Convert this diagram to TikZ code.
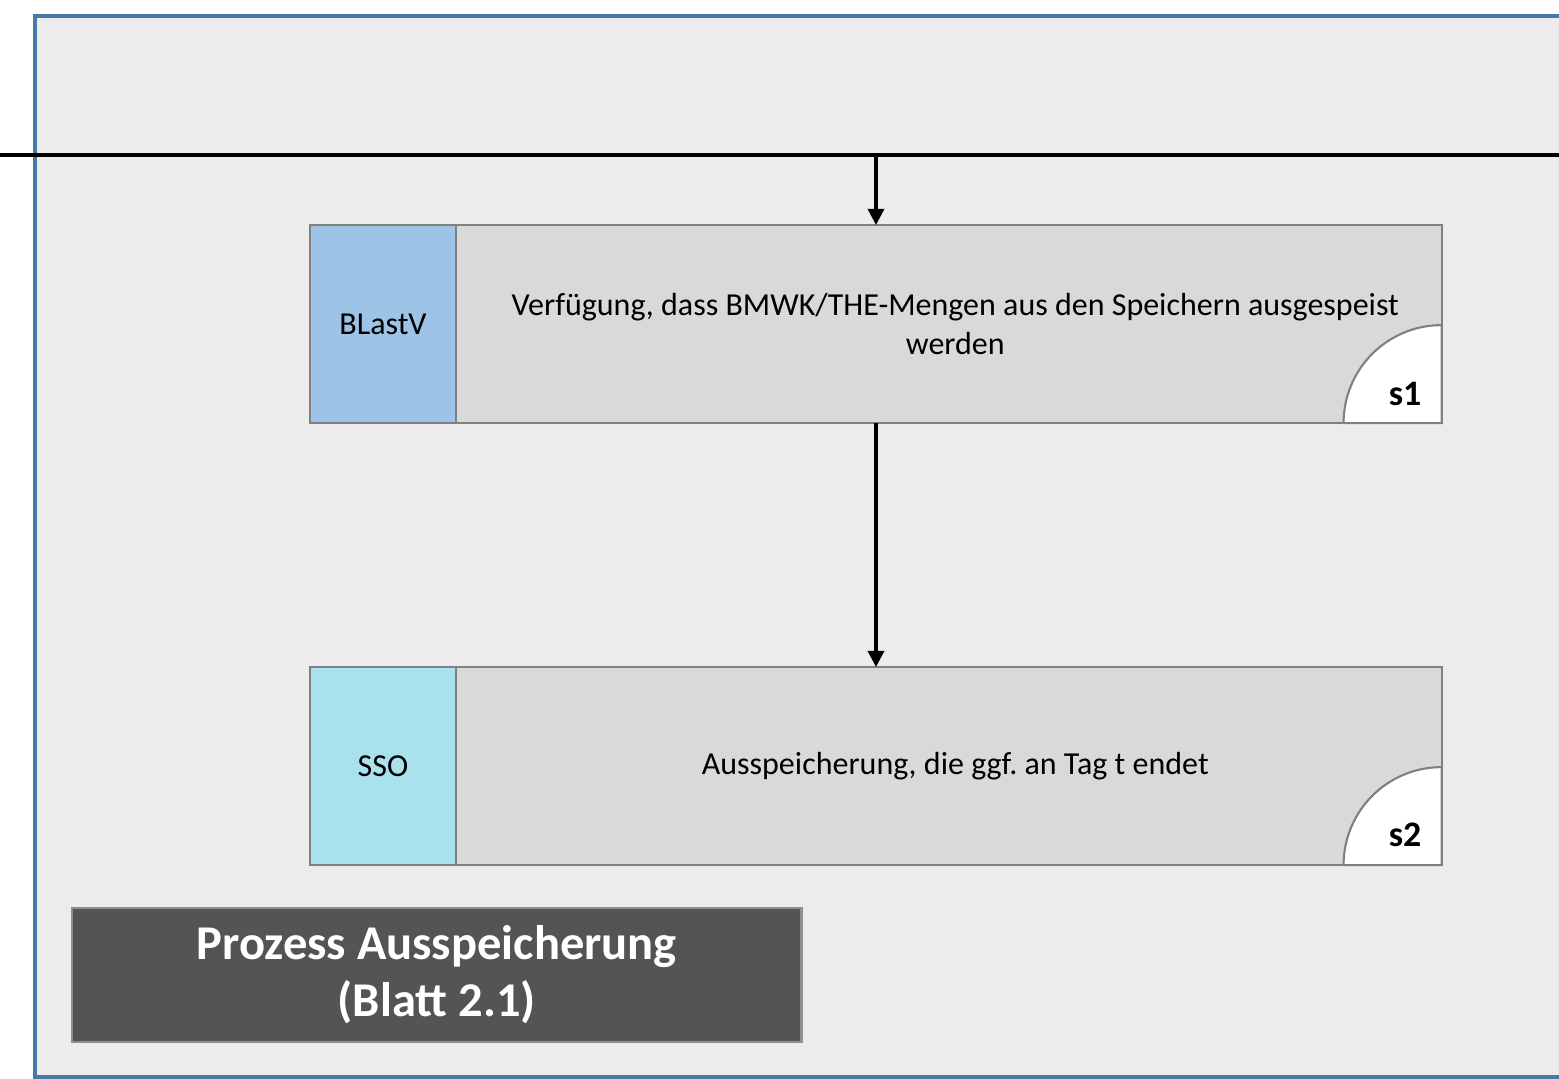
\documentclass[tikz,border=0pt]{standalone}
\usepackage{fontspec}
\setmainfont{Carlito}
\frenchspacing
\usetikzlibrary{arrows.meta,positioning}
\definecolor{framebg}{HTML}{ECECEC}
\definecolor{frameline}{HTML}{4A79A9}
\definecolor{cellgray}{HTML}{D9D9D9}
\definecolor{cellline}{HTML}{808080}
\definecolor{roleblue}{HTML}{9DC3E6}
\definecolor{rolecyan}{HTML}{A9E2ED}
\definecolor{titlebg}{HTML}{545454}
\definecolor{titleline}{HTML}{8E8E8E}
\begin{document}
\begin{tikzpicture}[x=0.01cm,y=-0.01cm,
  rolecell/.style={draw=cellline,line width=0.6pt,anchor=north west,outer sep=0pt,
    minimum width=1.46cm,minimum height=1.98cm,inner sep=0pt,
    font=\fontsize{9.1}{11}\selectfont},
  textcell/.style={draw=cellline,fill=cellgray,line width=0.6pt,anchor=north west,outer sep=0pt,
    minimum width=9.85cm,minimum height=1.98cm,inner sep=0pt,align=center,
    font=\fontsize{9.1}{11}\selectfont},
  qcorner/.style={draw=cellline,fill=white,line width=0.6pt},
  steplabel/.style={font=\fontsize{10.2}{12}\selectfont\bfseries,inner sep=0pt},
  bus/.style={line width=1.1pt,black},
  flow/.style={line width=0.9pt,black,-{Triangle[width=4.6pt,length=4.6pt]}}]
\useasboundingbox (0,0) rectangle (1559,1079);
\clip (0,0) rectangle (1559,1079);
% frame
\fill[framebg] (35,16) rectangle (1600,1077);
\draw[frameline,line width=0.9pt] (1600,16) -- (35,16) -- (35,1077) -- (1600,1077);
% bus line
\coordinate (busL) at (0,155);
\coordinate (busR) at (1559,155);
\coordinate (j1) at (876,155);
\draw[bus] (busL) -- (busR);
% step s1
\node[rolecell,fill=roleblue] (r1) at (310,225) {BLastV};
\node[textcell] (t1) at (456,225) {\hspace*{0.13cm}Verfügung, dass BMWK/THE-Mengen aus den Speichern ausgespeist\\\hspace*{0.13cm}werden};
\draw[qcorner] (t1.south east) ++(-98,0) arc (180:270:98) -- (t1.south east) -- cycle;
\node[steplabel] (s1) at (1405,394) {s1};
% step s2
\node[rolecell,fill=rolecyan] (r2) at (310,667) {SSO};
\node[textcell] (t2) at (456,667) {\hspace*{0.13cm}Ausspeicherung, die ggf. an Tag t endet};
\draw[qcorner] (t2.south east) ++(-98,0) arc (180:270:98) -- (t2.south east) -- cycle;
\node[steplabel] (s2) at (1405,835) {s2};
% arrows
\draw[flow] (j1) -- (j1 |- t1.north);
\draw[flow] (j1 |- t1.south) -- (j1 |- t2.north);
% title
\node[draw=titleline,fill=titlebg,line width=0.6pt,anchor=north west,
  minimum width=7.29cm,minimum height=1.34cm,inner sep=0pt,align=center,
  text=white,font=\fontsize{13.8}{16.2}\selectfont\bfseries] (title) at (71,907)
  {Prozess Ausspeicherung\\(Blatt 2.1)};
\end{tikzpicture}
\end{document}
